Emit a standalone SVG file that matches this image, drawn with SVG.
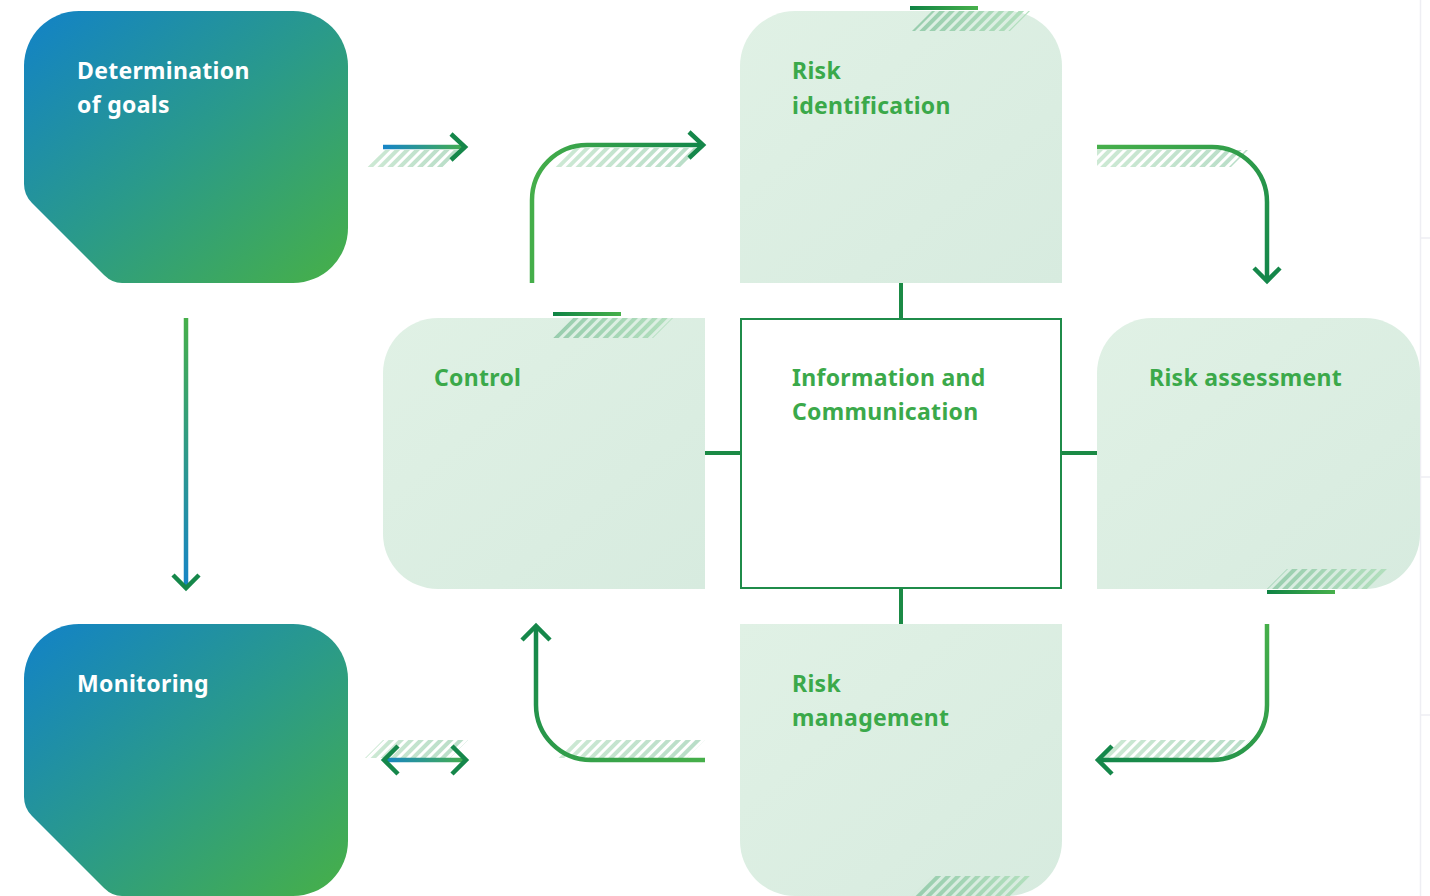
<svg xmlns="http://www.w3.org/2000/svg" width="1430" height="896" viewBox="0 0 1430 896">
<defs>
<style>
.lbl{font-family:"Noto Sans","Open Sans","Liberation Sans",sans-serif;font-weight:700;font-size:23px;letter-spacing:0.3px;fill:#3ba94a}
.wlbl{font-family:"Noto Sans","Open Sans","Liberation Sans",sans-serif;font-weight:700;font-size:23px;letter-spacing:0.3px;fill:#ffffff}
.light{fill:url(#gLight)}
.dark{fill:url(#gDark)}
.link{stroke:#1b8a45;stroke-width:4;fill:none}
.arr{stroke-width:4.5;fill:none;stroke-linejoin:miter}
.head{stroke:#15874a;stroke-width:4.5;fill:none;stroke-linecap:butt;stroke-linejoin:miter}
.hatchN{fill:url(#gHatchN)}
.hatchW{fill:url(#gHatchW)}
.bar{fill:url(#gBar)}
</style>
<linearGradient id="gDark" x1="0" y1="0" x2="1" y2="1">
<stop offset="0" stop-color="#1282c8"/>
<stop offset="0.5" stop-color="#2a9a8a"/>
<stop offset="1" stop-color="#47b047"/>
</linearGradient>
<linearGradient id="gLight" x1="0" y1="0" x2="1" y2="1">
<stop offset="0" stop-color="#e0f1e5"/>
<stop offset="1" stop-color="#d7ebdf"/>
</linearGradient>
<linearGradient id="gHatchN" x1="0" y1="0" x2="1" y2="0">
<stop offset="0" stop-color="#98cdae"/>
<stop offset="1" stop-color="#b2dfbd"/>
</linearGradient>
<linearGradient id="gHatchW" x1="0" y1="0" x2="1" y2="0">
<stop offset="0" stop-color="#cde9d4"/>
<stop offset="1" stop-color="#b8ddc7"/>
</linearGradient>
<linearGradient id="gBar" x1="0" y1="0" x2="1" y2="0">
<stop offset="0" stop-color="#0f8344"/>
<stop offset="1" stop-color="#47b04b"/>
</linearGradient>
<linearGradient id="gA2" x1="0" y1="0" x2="1" y2="0">
<stop offset="0" stop-color="#45ae4a"/>
<stop offset="1" stop-color="#13864a"/>
</linearGradient>
<linearGradient id="gA3" x1="0" y1="0" x2="1" y2="1">
<stop offset="0" stop-color="#46af4a"/>
<stop offset="1" stop-color="#13864a"/>
</linearGradient>
<linearGradient id="gA4" x1="1" y1="0" x2="0" y2="1">
<stop offset="0" stop-color="#46af4a"/>
<stop offset="1" stop-color="#13864a"/>
</linearGradient>
<linearGradient id="gA5" x1="1" y1="1" x2="0" y2="0">
<stop offset="0" stop-color="#46af4a"/>
<stop offset="1" stop-color="#13864a"/>
</linearGradient>
<linearGradient id="gA1" gradientUnits="userSpaceOnUse" x1="383" y1="0" x2="467" y2="0">
<stop offset="0" stop-color="#1684c8"/>
<stop offset="1" stop-color="#46af4a"/>
</linearGradient>
<linearGradient id="gA7" gradientUnits="userSpaceOnUse" x1="0" y1="318" x2="0" y2="590">
<stop offset="0" stop-color="#46af4a"/>
<stop offset="1" stop-color="#1684c8"/>
</linearGradient>
<pattern id="stripes" patternUnits="userSpaceOnUse" width="7" height="10" patternTransform="rotate(45)">
<rect x="0" y="0" width="4" height="10" fill="#ffffff"/>
</pattern>
<mask id="hm" maskUnits="userSpaceOnUse" x="0" y="0" width="1430" height="896">
<rect x="0" y="0" width="1430" height="896" fill="url(#stripes)"/>
</mask>
</defs>

<rect x="0" y="0" width="1430" height="896" fill="#ffffff"/>
<g id="frame-edge" stroke="#eeeef3" stroke-width="1.5">
<line x1="1420.5" y1="0" x2="1420.5" y2="896"/>
<line x1="1420" y1="238" x2="1430" y2="238"/>
<line x1="1420" y1="477" x2="1430" y2="477"/>
<line x1="1420" y1="715" x2="1430" y2="715"/>
</g>

<g id="node-goals">
<path class="dark" d="M79,11 H293 A55,55 0 0 1 348,66 V228 A55,55 0 0 1 293,283 H122 Q112,283 104,275 L32,203 Q24,195 24,184 V66 A55,55 0 0 1 79,11 Z"/>
<text class="wlbl" x="77" y="79">Determination</text>
<text class="wlbl" x="77" y="113">of goals</text>
</g>

<g id="node-monitoring">
<path class="dark" d="M79,624 H293 A55,55 0 0 1 348,679 V841 A55,55 0 0 1 293,896 H122 Q112,896 104,888 L32,816 Q24,808 24,797 V679 A55,55 0 0 1 79,624 Z"/>
<text class="wlbl" x="77" y="692">Monitoring</text>
</g>

<g id="node-risk-identification">
<path class="light" d="M740,283 V66 A55,55 0 0 1 795,11 H1007 A55,55 0 0 1 1062,66 V283 Z"/>
<polygon class="hatchN" mask="url(#hm)" points="932,11 1030,11 1010,31 912,31"/>
<rect class="bar" x="910" y="6" width="68" height="4"/>
<text class="lbl" x="792" y="79">Risk</text>
<text class="lbl" x="792" y="114">identification</text>
</g>

<g id="node-control">
<path class="light" d="M705,318 V589 H438 A55,55 0 0 1 383,534 V373 A55,55 0 0 1 438,318 Z"/>
<polygon class="hatchN" mask="url(#hm)" points="573,318 673,318 653,338 553,338"/>
<rect class="bar" x="553" y="312" width="68" height="4"/>
<text class="lbl" x="434" y="386">Control</text>
</g>

<g id="node-information">
<rect x="741" y="319" width="320" height="269" fill="#ffffff" stroke="#1f8c4a" stroke-width="2"/>
<text class="lbl" x="792" y="386">Information and</text>
<text class="lbl" x="792" y="420">Communication</text>
</g>

<g id="node-risk-assessment">
<path class="light" d="M1097,589 V373 A55,55 0 0 1 1152,318 H1365 A55,55 0 0 1 1420,373 V534 A55,55 0 0 1 1365,589 Z"/>
<polygon class="hatchN" mask="url(#hm)" points="1287,569 1388,569 1368,589 1267,589"/>
<rect class="bar" x="1267" y="590" width="68" height="4"/>
<text class="lbl" x="1149" y="386">Risk assessment</text>
</g>

<g id="node-risk-management">
<path class="light" d="M740,624 H1062 V841 A55,55 0 0 1 1007,896 H795 A55,55 0 0 1 740,841 Z"/>
<polygon class="hatchN" mask="url(#hm)" points="932,876 1030,876 1010,896 912,896"/>
<text class="lbl" x="792" y="692">Risk</text>
<text class="lbl" x="792" y="726">management</text>
</g>

<g id="connectors">
<line class="link" x1="901" y1="283" x2="901" y2="318"/>
<line class="link" x1="901" y1="589" x2="901" y2="624"/>
<line class="link" x1="705" y1="453" x2="740" y2="453"/>
<line class="link" x1="1062" y1="453" x2="1097" y2="453"/>

<polygon class="hatchW" mask="url(#hm)" points="385,150 460,150 443,167 367,167"/>
<polygon class="hatchW" mask="url(#hm)" points="573,148 700,148 683,167 553,167"/>
<polygon class="hatchW" mask="url(#hm)" points="1097,150 1248,150 1231,167 1097,167"/>
<polygon class="hatchW" mask="url(#hm)" points="1120,740 1250,740 1232,758 1102,758"/>
<polygon class="hatchW" mask="url(#hm)" points="573,740 705,740 687,758 555,758"/>
<polygon class="hatchW" mask="url(#hm)" points="383,740 468,740 450,758 365,758"/>

<line class="arr" stroke="url(#gA1)" x1="383" y1="147" x2="464" y2="147"/>
<polyline class="head" stroke="#46af4a" points="451,134 465,147 451,160"/>

<path class="arr" stroke="url(#gA2)" d="M532,283 V200 A55,55 0 0 1 587,145 H701"/>
<polyline class="head" points="689,132 703,145 689,158"/>

<path class="arr" stroke="url(#gA3)" d="M1097,147 H1212 A55,55 0 0 1 1267,202 V279"/>
<polyline class="head" points="1254,268 1267,281 1280,268"/>

<path class="arr" stroke="url(#gA4)" d="M1267,624 V705 A55,55 0 0 1 1212,760 H1100"/>
<polyline class="head" points="1112,746 1098,760 1112,774"/>

<path class="arr" stroke="url(#gA5)" d="M705,760 H591 A55,55 0 0 1 536,705 V628"/>
<polyline class="head" points="522,640 536,626 550,640"/>

<line class="arr" stroke="url(#gA1)" x1="386" y1="760" x2="464" y2="760"/>
<polyline class="head" stroke="#1684c8" points="398,746 384,760 398,774"/>
<polyline class="head" stroke="#46af4a" points="452,746 466,760 452,774"/>

<line class="arr" stroke="url(#gA7)" x1="186" y1="318" x2="186" y2="586"/>
<polyline class="head" stroke="#1684c8" points="173,575 186,588 199,575"/>
</g>
</svg>
